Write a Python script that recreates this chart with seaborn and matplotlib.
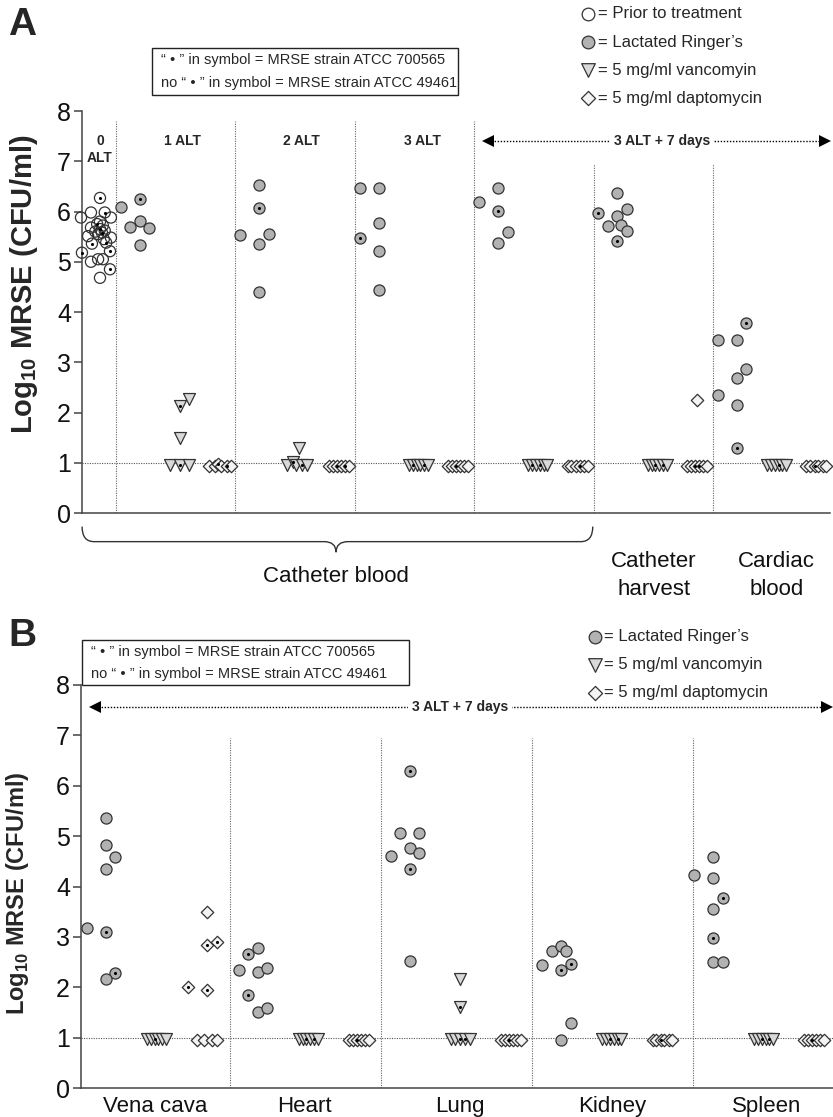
import numpy as np
import pandas as pd
import matplotlib
matplotlib.use("Agg")
import matplotlib.pyplot as plt
import seaborn as sns
from matplotlib.path import Path
from matplotlib.patches import PathPatch, Rectangle

# ------------------------------------------------------------------ DATA
# Panel A : catheter blood / catheter harvest / cardiac blood
A_columns = ["0 ALT prior",
             "1 ALT LR", "1 ALT vanco", "1 ALT dapto",
             "2 ALT LR", "2 ALT vanco", "2 ALT dapto",
             "3 ALT LR", "3 ALT vanco", "3 ALT dapto",
             "7d cath blood LR", "7d cath blood vanco", "7d cath blood dapto",
             "Cath harvest LR", "Cath harvest vanco", "Cath harvest dapto",
             "Cardiac blood LR", "Cardiac blood vanco", "Cardiac blood dapto"]
A_treat = ["Prior",
           "LR", "Vanco", "Dapto",
           "LR", "Vanco", "Dapto",
           "LR", "Vanco", "Dapto",
           "LR", "Vanco", "Dapto",
           "LR", "Vanco", "Dapto",
           "LR", "Vanco", "Dapto"]
A_values = [
    [6.27, 5.88, 5.98, 5.98, 5.88, 5.80, 5.75, 5.72, 5.68, 5.65, 5.62, 5.60, 5.58,
     5.55, 5.51, 5.48, 5.45, 5.36, 5.38, 5.18, 5.21, 5.00, 5.05, 5.05, 4.85, 4.68],
    [6.09, 6.24, 5.69, 5.81, 5.68, 5.34],
    [2.27, 2.12, 1.49, 0.95, 0.95, 0.95],
    [0.94, 0.94, 0.97, 0.94, 0.94, 0.94],
    [6.52, 6.06, 5.53, 5.56, 5.35, 4.40],
    [1.29, 0.95, 1.02, 0.95, 0.95, 0.95],
    [0.94, 0.94, 0.94, 0.94, 0.94, 0.94],
    [6.46, 6.46, 5.48, 5.78, 5.21, 4.43],
    [0.95, 0.95, 0.95, 0.95, 0.95, 0.95],
    [0.94, 0.94, 0.94, 0.94, 0.94, 0.94],
    [6.19, 6.46, 6.01, 5.59, 5.37],
    [0.95, 0.95, 0.95, 0.95, 0.95, 0.95],
    [0.94, 0.94, 0.94, 0.94, 0.94, 0.94],
    [5.98, 6.36, 6.04, 5.92, 5.72, 5.74, 5.61, 5.42],
    [0.95, 0.95, 0.95, 0.95, 0.95, 0.95],
    [2.24, 0.94, 0.94, 0.94, 0.94, 0.94, 0.94],
    [3.44, 3.44, 3.78, 2.86, 2.69, 2.34, 2.14, 1.29],
    [0.95, 0.95, 0.95, 0.95, 0.95, 0.95],
    [0.94, 0.94, 0.94, 0.94, 0.94, 0.94],
]
# column-scatter slot of each point (Prism-style side-by-side placement)
A_slots = [
    [0, -2, -0.95, 0.5, 1.15, 0, -0.3, 0.3, -0.95, 0, 0.5, -0.5, 0.2,
     -0.2, -1.25, 1.15, 0.4, -0.85, 0.65, -1.9, 1.05, -0.95, 0.3, -0.2, 1.05, 0],
    [-2, 0, -1, 0, 1, 0],
    [1, 0, 0, -1, 0, 1],
    [-1.05, -0.5, -0.2, 0.2, 0.75, 1.25],
    [0, 0, -2, 1, 0, 0],
    [0, -1.25, -0.6, -0.3, 0.3, 0.85],
    [-1.05, -0.65, -0.2, 0.2, 0.65, 1.05],
    [-2, 0, -2, 0, 0, 0],
    [-1.0, -0.6, -0.2, 0.2, 0.6, 1.0],
    [-1.05, -0.65, -0.2, 0.2, 0.65, 1.05],
    [-2, 0, 0, 1, 0],
    [-1.0, -0.6, -0.2, 0.2, 0.6, 1.0],
    [-1.05, -0.65, -0.2, 0.2, 0.65, 1.05],
    [-2, 0, 1, 0, -1, 0.4, 1, 0],
    [-1.0, -0.6, -0.2, 0.2, 0.6, 1.0],
    [0, -1.05, -0.65, -0.2, 0.2, 0.65, 1.05],
    [-2, 0, 1, 1, 0, -2, 0, 0],
    [-1.0, -0.6, -0.2, 0.2, 0.6, 1.0],
    [-1.05, -0.65, -0.2, 0.2, 0.65, 1.05],
]
# 1 = strain ATCC 700565 (dot in symbol), 0 = strain ATCC 49461
A_strain = [
    [1, 0, 0, 1, 0, 0, 1, 0, 0, 1, 0, 0, 1, 0, 0, 0, 0, 1, 1, 1, 1, 0, 0, 0, 1, 0],
    [0, 1, 0, 0, 0, 0],
    [0, 1, 0, 0, 1, 0],
    [0, 0, 1, 0, 1, 0],
    [0, 1, 0, 0, 0, 0],
    [0, 0, 1, 0, 1, 0],
    [0, 0, 1, 0, 1, 0],
    [0, 0, 1, 0, 0, 0],
    [0, 1, 0, 0, 1, 0],
    [0, 0, 1, 0, 0, 0],
    [0, 0, 1, 0, 0],
    [0, 1, 0, 1, 0, 0],
    [0, 0, 0, 1, 0, 0],
    [1, 0, 0, 0, 0, 0, 0, 1],
    [0, 0, 1, 0, 1, 0],
    [0, 0, 0, 1, 1, 0, 0],
    [0, 0, 1, 0, 0, 0, 0, 1],
    [0, 0, 0, 1, 0, 0],
    [0, 0, 1, 0, 0, 0],
]

# Panel B : organs, 3 ALT + 7 days
B_columns = ["Vena cava LR", "Vena cava vanco", "Vena cava dapto",
             "Heart LR", "Heart vanco", "Heart dapto",
             "Lung LR", "Lung vanco", "Lung dapto",
             "Kidney LR", "Kidney vanco", "Kidney dapto",
             "Spleen LR", "Spleen vanco", "Spleen dapto"]
B_treat = ["LR", "Vanco", "Dapto",
           "LR", "Vanco", "Dapto",
           "LR", "Vanco", "Dapto",
           "LR", "Vanco", "Dapto",
           "LR", "Vanco", "Dapto"]
B_values = [
    [3.18, 5.35, 4.82, 4.58, 4.35, 3.09, 2.28, 2.16],
    [0.97, 0.97, 0.98, 0.97, 0.97, 0.97],
    [3.49, 2.84, 2.89, 2.00, 1.95, 0.96, 0.96, 0.96, 0.96],
    [2.35, 2.66, 2.78, 2.30, 2.39, 1.85, 1.50, 1.59],
    [0.97, 0.97, 0.97, 0.97, 0.97, 0.97],
    [0.96, 0.96, 0.96, 0.96, 0.96, 0.96],
    [6.29, 5.06, 5.06, 4.60, 4.77, 4.66, 4.35, 2.53],
    [2.16, 1.61, 0.97, 0.97, 0.97, 0.97, 0.97],
    [0.96, 0.96, 0.96, 0.96, 0.96, 0.96],
    [2.45, 2.71, 2.81, 2.71, 2.47, 2.35, 1.30, 0.96],
    [0.97, 0.97, 0.97, 0.97, 0.97, 0.97],
    [0.96, 0.96, 0.96, 0.96, 0.96, 0.96],
    [4.22, 4.59, 4.17, 3.77, 3.55, 2.98, 2.51, 2.51],
    [0.97, 0.97, 0.97, 0.97, 0.97, 0.97],
    [0.96, 0.96, 0.96, 0.96, 0.96, 0.96],
]
B_slots = [
    [-2, 0, 0, 1, 0, 0, 1, 0],
    [-1.0, -0.6, -0.2, 0.2, 0.6, 1.0],
    [0, 0, 1, -2, 0, -1.05, -0.3, 0.5, 1.05],
    [-2, -1, 0, 0, 1, -1, 0, 1],
    [-1.0, -0.6, -0.2, 0.2, 0.6, 1.0],
    [-1.05, -0.65, -0.2, 0.2, 0.65, 1.05],
    [0, -1, 1, -2, 0, 1, 0, 0],
    [0, 0, -1.0, -0.5, 0, 0.5, 1.0],
    [-1.05, -0.65, -0.2, 0.2, 0.65, 1.05],
    [-2, -1, 0, 0.5, 1, 0, 1, 0],
    [-1.0, -0.6, -0.2, 0.2, 0.6, 1.0],
    [-1.05, -0.65, -0.2, 0.2, 0.65, 1.05],
    [-2, 0, 0, 1, 0, 0, 0, 1],
    [-1.0, -0.6, -0.2, 0.2, 0.6, 1.0],
    [-1.05, -0.65, -0.2, 0.2, 0.65, 1.05],
]
B_strain = [
    [0, 0, 0, 0, 0, 1, 1, 0],
    [0, 0, 1, 0, 0, 0],
    [0, 1, 1, 1, 1, 0, 0, 0, 0],
    [0, 1, 0, 0, 0, 1, 0, 0],
    [0, 0, 1, 0, 1, 0],
    [0, 0, 1, 0, 0, 0],
    [1, 0, 0, 0, 0, 0, 1, 0],
    [0, 1, 0, 0, 1, 1, 0],
    [0, 0, 1, 0, 0, 0],
    [0, 0, 0, 0, 1, 1, 0, 0],
    [0, 0, 1, 0, 1, 0],
    [0, 0, 1, 0, 0, 0],
    [0, 0, 0, 1, 0, 1, 0, 0],
    [0, 0, 1, 0, 1, 0],
    [0, 0, 1, 0, 0, 0],
]

A_section_labels = ["0\nALT", "1 ALT", "2 ALT", "3 ALT"]
A_bottom_labels = ["Catheter blood", "Catheter\nharvest", "Cardiac\nblood"]
B_organs = ["Vena cava", "Heart", "Lung", "Kidney", "Spleen"]
LEGEND_A = ["= Prior to treatment", "= Lactated Ringer\u2019s",
            "= 5 mg/ml vancomyin", "= 5 mg/ml daptomycin"]
LEGEND_B = ["= Lactated Ringer\u2019s", "= 5 mg/ml vancomyin", "= 5 mg/ml daptomycin"]
STRAIN_NOTE = ["\u201c \u2022 \u201d in symbol = MRSE strain ATCC 700565",
               "no \u201c \u2022 \u201d in symbol = MRSE strain ATCC 49461"]
Y_TICKS = [0, 1, 2, 3, 4, 5, 6, 7, 8]
DETECTION_LIMIT = 1

# ------------------------------------------------------------------ STYLE
sns.set_theme(style="white")
plt.rcParams['font.family'] = ['Liberation Sans', 'DejaVu Sans']
plt.rcParams['mathtext.fontset'] = 'custom'
plt.rcParams['mathtext.rm'] = 'Liberation Sans'
plt.rcParams['mathtext.bf'] = 'Liberation Sans:bold'

EC = '#333333'
STY = {
    "Prior": dict(marker='o', s=64, color='none'),
    "LR": dict(marker='o', s=64, color='#b2b2b2'),
    "Vanco": dict(marker='v', s=74, color='#d9d9d9'),
    "Dapto": dict(marker='D', s=40, color='#f4f4f4'),
}
SLOT_PX = 9.5
DOT = (0, (1, 1.2))

W, H = 833, 1117
fig = plt.figure(figsize=(W / 100, H / 100), dpi=100)


def px_axes(left, top, right, bottom):
    return fig.add_axes([left / W, 1 - bottom / H, (right - left) / W, (bottom - top) / H])


def build_table(columns, treat, values, slots, strain):
    rows = []
    for k, name in enumerate(columns):
        for v, sl, st in zip(values[k], slots[k], strain[k]):
            rows.append(dict(column=name, pos=k, treat=treat[k], value=v, slot=sl, strain=st))
    return pd.DataFrame(rows)


def draw_points(ax, df, px_per_col):
    df = df.copy()
    df["x"] = df["pos"] + df["slot"] * SLOT_PX / px_per_col
    for t in ["Prior", "LR", "Vanco", "Dapto"]:
        sub = df[df["treat"] == t]
        if len(sub) == 0:
            continue
        sns.scatterplot(data=sub, x="x", y="value", ax=ax, edgecolor=EC, linewidth=0.9,
                        legend=False, zorder=3, clip_on=False, **STY[t])
    dots = df[df["strain"] == 1]
    sns.scatterplot(data=dots, x="x", y="value", ax=ax, color='black', s=5, linewidth=0,
                    marker='o', legend=False, zorder=4, clip_on=False)
    ax.set_xlabel("")
    ax.set_ylabel("")


def style_axis(ax):
    for side in ["top", "right"]:
        ax.spines[side].set_visible(False)
    for side in ["left", "bottom"]:
        ax.spines[side].set_color('#444444')
        ax.spines[side].set_linewidth(1.1)
    ax.set_ylim(0, 8)
    ax.set_yticks(Y_TICKS)
    ax.tick_params(axis='y', left=True, length=6, width=1.1, color='#444444',
                   labelsize=18, pad=2, labelcolor='#111111')
    ax.tick_params(axis='x', bottom=False, labelbottom=False)
    ax.axhline(DETECTION_LIMIT, color='#555555', lw=0.8, ls=DOT, zorder=1)
    ax.patch.set_alpha(0)


def arrow(ax, x0, x1, y, xc, px_per_col):
    ins = 5 / px_per_col
    ax.plot([x0 + ins, x1 - ins], [y, y], color='black', lw=1.0, ls=DOT, zorder=2, clip_on=False)
    ax.plot([x0 + ins], [y], marker='<', ms=8, color='black', mew=0, zorder=2, clip_on=False)
    ax.plot([x1 - ins], [y], marker='>', ms=8, color='black', mew=0, zorder=2, clip_on=False)
    ax.text(xc, y, "3 ALT + 7 days", ha='center', va='center', fontsize=10, fontweight='bold',
            bbox=dict(fc='white', ec='none', pad=3), zorder=3)


# ---------------------------------------------------------------- PANEL A
axA = px_axes(82, 111, 830, 513)
axA.set_xlim(-0.452, 18.34)
pxA = 748 / (18.34 + 0.452)
style_axis(axA)
dfA = build_table(A_columns, A_treat, A_values, A_slots, A_strain)
draw_points(axA, dfA, pxA)

axA.vlines([0.4, 3.4, 6.4, 9.4], 0, 7.8, color='#666666', lw=0.8, ls=DOT, zorder=1)
axA.vlines([12.4, 15.4], 0, 6.95, color='#666666', lw=0.8, ls=DOT, zorder=1)
for lab, xk in zip(A_section_labels, [0, 2.08, 5.07, 8.1]):
    if "\n" in lab:
        axA.text(xk, 7.4, lab.split("\n")[0], ha='center', va='center', fontsize=10, fontweight='bold')
        axA.text(xk, 7.06, lab.split("\n")[1], ha='center', va='center', fontsize=10, fontweight='bold')
    else:
        axA.text(xk, 7.4, lab, ha='center', va='center', fontsize=10, fontweight='bold')
arrow(axA, 9.62, 18.34, 7.4, 14.12, pxA)

# brace under catheter blood
bx0, bx1, bxm = -0.45, 12.38, 5.93
byt, bym, byp = -0.27, -0.57, -0.78
r = 0.3
verts = [(bx0, byt), (bx0, bym), (bx0 + r, bym), (bxm - r, bym), (bxm, bym), (bxm, byp),
         (bxm, bym), (bxm + r, bym), (bx1 - r, bym), (bx1, bym), (bx1, byt)]
codes = [Path.MOVETO, Path.CURVE3, Path.CURVE3, Path.LINETO, Path.CURVE3, Path.CURVE3,
         Path.CURVE3, Path.CURVE3, Path.LINETO, Path.CURVE3, Path.CURVE3]
axA.add_patch(PathPatch(Path(verts, codes), fc='none', ec='#333333', lw=1.0, clip_on=False))
axA.text(5.93, -1.27, A_bottom_labels[0], ha='center', va='center', fontsize=16, color='#111111')
for lab, xk in zip(A_bottom_labels[1:], [13.92, 17.0]):
    axA.text(xk, -1.25, lab, ha='center', va='center', fontsize=16, linespacing=1.45,
             color='#111111')

# ---------------------------------------------------------------- PANEL B
axB = px_axes(81, 685, 833, 1088)
axB.set_xlim(-0.494, 14.37)
pxB = 752 / (14.37 + 0.494)
style_axis(axB)
dfB = build_table(B_columns, B_treat, B_values, B_slots, B_strain)
draw_points(axB, dfB, pxB)
axB.vlines([2.45, 5.43, 8.42, 11.6], 0, 6.95, color='#666666', lw=0.8, ls=DOT, zorder=1)
arrow(axB, -0.32, 14.35, 7.56, 7.0, pxB)
for lab, xk in zip(B_organs, [0.97, 3.93, 7.0, 10.0, 13.06]):
    axB.text(xk, -0.36, lab, ha='center', va='center', fontsize=16, color='#111111')

# ---------------------------------------------------------------- overlay
ov = fig.add_axes([0, 0, 1, 1])
ov.set_xlim(0, W)
ov.set_ylim(H, 0)
ov.axis('off')
ov.patch.set_visible(False)

ylab = r"Log$_{\mathbf{10}}$ MRSE (CFU/ml)"
ov.text(24, 284, ylab, rotation=90, ha='center', va='center', fontsize=21, fontweight='bold')
ov.text(18, 893, ylab, rotation=90, ha='center', va='center', fontsize=17, fontweight='bold')
ov.text(22, 25, "A", ha='center', va='center', fontsize=28, fontweight='bold')
ov.text(22, 636, "B", ha='center', va='center', fontsize=28, fontweight='bold')

ov.add_patch(Rectangle((152, 48), 306, 47, fc='white', ec='#222222', lw=1.0))
ov.text(161, 60, STRAIN_NOTE[0], ha='left', va='center', fontsize=10.5)
ov.text(161, 83, STRAIN_NOTE[1], ha='left', va='center', fontsize=10.5)
ov.add_patch(Rectangle((82, 640), 327, 45, fc='white', ec='#222222', lw=1.0))
ov.text(91, 652, STRAIN_NOTE[0], ha='left', va='center', fontsize=10.5)
ov.text(91, 674, STRAIN_NOTE[1], ha='left', va='center', fontsize=10.5)

legA_keys = ["Prior", "LR", "Vanco", "Dapto"]
for key, lab, yy in zip(legA_keys, LEGEND_A, [14, 42, 70, 98]):
    st = STY[key]
    ov.scatter([588], [yy], marker=st['marker'], s=st['s'] * 1.3,
               c=st['color'] if st['color'] != 'none' else 'white',
               edgecolors=EC, linewidths=0.9)
    ov.text(598, yy, lab, ha='left', va='center', fontsize=12)
for key, lab, yy in zip(["LR", "Vanco", "Dapto"], LEGEND_B, [637, 665, 693]):
    st = STY[key]
    ov.scatter([595], [yy], marker=st['marker'], s=st['s'] * 1.3, c=st['color'],
               edgecolors=EC, linewidths=0.9)
    ov.text(604, yy, lab, ha='left', va='center', fontsize=12)

fig.savefig("out.png", dpi=100)
